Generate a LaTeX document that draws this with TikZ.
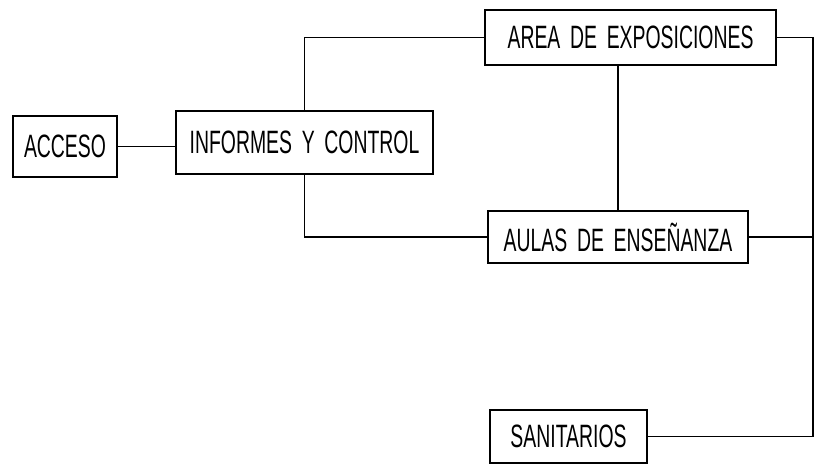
\documentclass[tikz,border=0pt]{standalone}
\usepackage{fontspec}
\setmainfont{Liberation Sans}[FakeStretch=0.6,WordSpace=1.8]
\usetikzlibrary{positioning}

\begin{document}
\begin{tikzpicture}[x=0.025cm,y=-0.025cm,every node/.style={shape=rectangle,draw,line width=1.6pt,inner sep=0pt,font=\fontsize{23}{26}\selectfont},]
	\useasboundingbox (0,0) rectangle (820,466);
	% create rooms
	\node (acc) at (65,146.5) [minimum width=2.6cm,minimum height=1.525cm] {ACCESO};
	\node (inf) at (304.5,142.5) [minimum width=6.425cm,minimum height=1.575cm] {INFORMES Y CONTROL};
	\node (area) at (630.5,37.5) [minimum width=7.275cm,minimum height=1.375cm] {AREA DE EXPOSICIONES};
	\node (aulas) at (618,237) [minimum width=6.5cm,minimum height=1.3cm] {AULAS DE ENSEÑANZA};
	\node (san) at (568.5,436.5) [minimum width=3.925cm,minimum height=1.325cm] {SANITARIOS};
	\coordinate (bus) at (813,436.5);

	% links between rooms
	\draw[line width=1.3pt] (acc.east) -- (acc.east -| inf.west);
	\draw[line width=1.3pt] (inf.north) |- (area.west);
	\draw[line width=1.3pt] (inf.south) |- (aulas.west);
	\draw[line width=1.3pt] (aulas.north) -- (aulas.north |- area.south);
	\draw[line width=1.3pt] (area.east) -| (bus);
	\draw[line width=1.3pt] (aulas.east) -- (aulas.east -| bus);
	\draw[line width=1.3pt] (san.east) -- (bus);
\end{tikzpicture}
\end{document}
